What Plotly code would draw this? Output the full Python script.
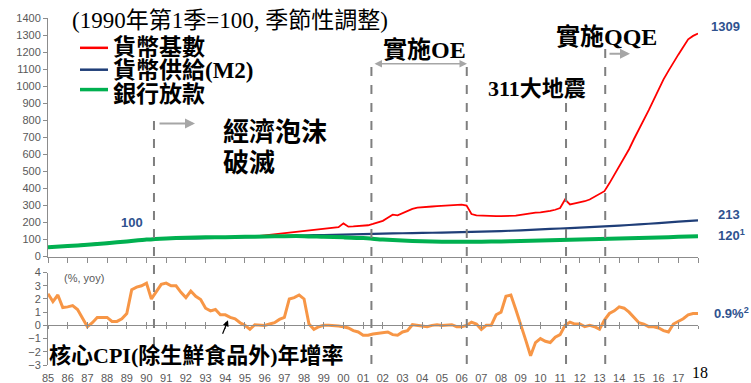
import plotly.graph_objects as go

# ---------------- data ----------------
years = list(range(1985, 2019))
year_labels = [f"{y % 100:02d}" for y in range(1985, 2018)]

# Monetary base (quarterly, 1985Q1 .. 2018Q1), 1990Q1 = 100
base_q = [
    55, 57, 59, 60,   # 1985
    62, 64, 66, 68,   # 1986
    70, 72, 74, 76,   # 1987
    79, 81, 84, 86,   # 1988
    89, 92, 95, 97,   # 1989
    100, 102, 104, 105,  # 1990
    107, 108, 109, 110,  # 1991
    111, 111, 112, 112,  # 1992
    113, 113, 113, 114,  # 1993
    114, 114, 115, 115,  # 1994
    116, 117, 118, 121,  # 1995
    125, 128, 132, 135,  # 1996
    138, 141, 144, 147,  # 1997
    150, 153, 157, 161,  # 1998
    164, 167, 170, 173,  # 1999
    195, 176, 177, 179,  # 2000
    182, 184, 192, 200,  # 2001
    210, 228, 246, 242,  # 2002
    255, 270, 280, 287,  # 2003
    288, 290, 294, 296,  # 2004
    297, 300, 302, 303,  # 2005
    305, 300, 250, 242,  # 2006
    240, 238, 238, 238,  # 2007
    238, 238, 239, 240,  # 2008
    245, 250, 255, 258,  # 2009
    260, 262, 268, 275,  # 2010
    285, 335, 306, 312,  # 2011
    318, 325, 335, 350,  # 2012
    370, 384, 430, 480,  # 2013
    530, 575, 630, 690,  # 2014
    745, 800, 860, 920,  # 2015
    985, 1040, 1090, 1140,  # 2016
    1185, 1230, 1275, 1295,  # 2017
    1309,                # 2018
]

# Money supply M2 (annual), 1990Q1 = 100
m2 = [55, 62, 70, 79, 89, 100, 105, 107, 108, 111, 114, 117, 120, 124, 127,
      129, 132, 135, 137, 139, 141, 144, 147, 150, 154, 160, 165, 170, 176,
      182, 189, 197, 205, 213]

# Bank lending (annual), 1990Q1 = 100
loans = [55, 62, 70, 79, 89, 100, 107, 111, 113, 114, 116, 118, 120, 120, 116,
         113, 109, 100, 94, 90, 88, 87, 88, 89, 92, 95, 98, 101, 103, 106,
         109, 112, 116, 120]

# Core CPI y/y (quarterly, 1985Q1 .. 2018Q1)
cpi_q = [
    2.4, 1.8, 2.3, 1.35,    # 1985
    1.4, 1.5, 1.2, 0.6,     # 1986
    -0.1, 0.2, 0.6, 0.6,    # 1987
    0.6, 0.3, 0.3, 0.5,     # 1988
    0.9, 2.7, 2.9, 3.0,     # 1989
    3.2, 2.0, 2.6, 3.1,     # 1990
    3.2, 3.0, 3.0, 2.5,     # 1991
    2.1, 2.6, 2.2, 1.95,    # 1992
    1.3, 1.1, 1.2, 0.8,     # 1993
    0.8, 0.6, 0.5, 0.2,     # 1994
    0.0, -0.3, 0.05, 0.0,   # 1995
    0.0, 0.1, 0.2, 0.45,    # 1996
    0.6, 2.0, 2.1, 2.3,     # 1997
    2.0, 0.1, -0.3, -0.1,   # 1998
    0.0, 0.0, 0.0, -0.05,   # 1999
    -0.1, -0.2, -0.4, -0.5, # 2000
    -0.75, -0.75, -0.65, -0.6,  # 2001
    -0.6, -0.5, -0.7, -0.75,    # 2002
    -0.5, -0.4, 0.05, 0.0,      # 2003
    -0.1, -0.1, 0.0, 0.05,      # 2004
    0.0, 0.0, 0.05, -0.1,       # 2005
    -0.1, 0.0, 0.25, 0.1,       # 2006
    -0.3, 0.0, 0.0, 0.8,        # 2007
    1.0, 2.2, 2.3, 1.2,         # 2008
    0.1, -1.1, -2.3, -1.3,      # 2009
    -1.0, -1.2, -1.3, -0.9,     # 2010
    -0.7, 0.0, 0.25, 0.1,       # 2011
    0.1, -0.1, 0.0, -0.1,       # 2012
    -0.3, 0.4, 0.9, 1.1,        # 2013
    1.4, 1.3, 1.0, 0.6,         # 2014
    0.2, 0.1, -0.1, -0.1,       # 2015
    -0.2, -0.4, -0.5, 0.1,      # 2016
    0.3, 0.5, 0.8, 0.9,         # 2017
    0.9,                        # 2018
]

# event dates (decimal years) and how far up each dashed line reaches (px from top)
events = [1990.38, 2001.42, 2006.26, 2011.3, 2013.29]
event_tops = [113, 62, 62, 102, 48]

quarters = [1985 + i / 4 for i in range(len(base_q))]

# ---------------- layout helpers (pixel -> paper) ----------------
W, H = 751, 383
ML, MR, MT, MB = 48, 53, 17, 17
PW, PH = W - ML - MR, H - MT - MB


def px(x):
    return (x - ML) / PW


def py(y):
    return (H - MB - y) / PH


AXIS_GRAY = "#8C8C8C"
TICK_FONT = dict(family="Liberation Sans, Arial", size=11, color="#595959")
LABEL_BLUE = "#2F528F"
CJK_SERIF = "Liberation Serif, Noto Sans CJK TC"
RED, BLUE, GREEN, ORANGE = "#FF0000", "#1F3E78", "#00B050", "#F79646"

fig = go.Figure()
fig.add_trace(go.Scatter(x=quarters, y=base_q, mode="lines",
                         line=dict(color=RED, width=1.8), xaxis="x", yaxis="y"))
fig.add_trace(go.Scatter(x=years, y=m2, mode="lines",
                         line=dict(color=BLUE, width=2.2, shape="spline", smoothing=0.6),
                         xaxis="x", yaxis="y"))
fig.add_trace(go.Scatter(x=years, y=loans, mode="lines",
                         line=dict(color=GREEN, width=4, shape="spline", smoothing=0.6),
                         xaxis="x", yaxis="y"))
fig.add_trace(go.Scatter(x=quarters, y=cpi_q, mode="lines",
                         line=dict(color=ORANGE, width=3), xaxis="x2", yaxis="y2"))

top_lo = py(257)
bot_hi = py(273)

fig.update_layout(
    width=W, height=H, margin=dict(l=ML, r=MR, t=MT, b=MB),
    paper_bgcolor="white", plot_bgcolor="white", showlegend=False,
    xaxis=dict(domain=[0, 1], range=[1985, 2018], anchor="y",
               tickvals=years, showticklabels=False, ticks="outside", ticklen=5,
               tickcolor=AXIS_GRAY, showline=True, linecolor=AXIS_GRAY, linewidth=1,
               showgrid=False, zeroline=False),
    yaxis=dict(domain=[top_lo, 1], range=[0, 1400], dtick=100, anchor="x",
               ticks="outside", ticklen=4, tickcolor=AXIS_GRAY, showline=True,
               linecolor=AXIS_GRAY, tickfont=TICK_FONT, showgrid=False, zeroline=False),
    xaxis2=dict(domain=[0, 1], range=[1985, 2018], anchor="y2",
                tickvals=years[:-1], ticktext=year_labels, ticks="", showline=False,
                tickfont=TICK_FONT, showgrid=False, zeroline=False, automargin=False,
                ticklabelstandoff=5),
    xaxis3=dict(domain=[0, 1], range=[1985, 2018], overlaying="x2", anchor="free",
                position=py(326), tickvals=years, showticklabels=False,
                ticks="outside", ticklen=3, tickcolor=AXIS_GRAY, showline=True,
                linecolor=AXIS_GRAY, showgrid=False, zeroline=False),
    xaxis4=dict(domain=[0, 1], range=[1985, 2018], overlaying="x2", anchor="free",
                position=py(326), tickvals=years, showticklabels=False,
                ticks="inside", ticklen=3, tickcolor=AXIS_GRAY, showline=False,
                showgrid=False, zeroline=False),
    yaxis2=dict(domain=[0, bot_hi], range=[-3, 4], dtick=1, anchor="x2",
                ticks="outside", ticklen=4, tickcolor=AXIS_GRAY, showline=True,
                linecolor=AXIS_GRAY, tickfont=TICK_FONT, showgrid=False, zeroline=False),
)
# dummy traces so the overlay axes are drawn
fig.add_trace(go.Scatter(x=[None], y=[None], xaxis="x3", yaxis="y2", showlegend=False))
fig.add_trace(go.Scatter(x=[None], y=[None], xaxis="x4", yaxis="y2", showlegend=False))

shapes = []
for ev, top in zip(events, event_tops):
    shapes.append(dict(type="line", xref="x", yref="paper", x0=ev, x1=ev, y0=0.003,
                       y1=py(top), line=dict(color="#7F7F7F", width=2, dash="dash")))
for col, yy, wdt in [(RED, 47, 2.5), (BLUE, 69, 2.5), (GREEN, 89, 3.5)]:
    shapes.append(dict(type="line", xref="paper", yref="paper", x0=px(80), x1=px(108),
                       y0=py(yy), y1=py(yy), line=dict(color=col, width=wdt)))
fig.update_layout(shapes=shapes)

ann = []


def text(x, y, s, size, color="black", family=CJK_SERIF, xanchor="left", bold=False):
    ann.append(dict(x=px(x), y=py(y), xref="paper", yref="paper", text=s, showarrow=False,
                    xanchor=xanchor, yanchor="middle",
                    font=dict(family=family, size=size, color=color,
                              weight="bold" if bold else "normal")))


text(70, 20, "(1990年第1季=100, 季節性調整)", 23)
text(111, 47, "貨幣基數", 23, bold=True)
text(111, 70, "貨幣供給(M2)", 23, bold=True)
text(111, 94, "銀行放款", 23, bold=True)
text(221, 132, "經濟泡沫", 26, bold=True)
text(221, 163, "破滅", 26, bold=True)
text(381, 49, "實施OE", 24, bold=True)
text(486, 88, "311大地震", 22, bold=True)
text(554, 36, "實施QQE", 24, bold=True)
text(47, 356, "核心CPI(除生鮮食品外)年增率", 22, bold=True)
text(62, 278, "(%, yoy)", 11, color="#595959", family="Liberation Sans, Arial")
text(700, 374, "18", 16, family="Liberation Serif", xanchor="center")

blue_font = "Liberation Sans, Arial"
text(709, 26, "1309", 13, color=LABEL_BLUE, family=blue_font, bold=True)
text(119, 223, "100", 13, color=LABEL_BLUE, family=blue_font, bold=True)
text(716, 215, "213", 13, color=LABEL_BLUE, family=blue_font, bold=True)
text(716, 235, "120<sup>1</sup>", 13, color=LABEL_BLUE, family=blue_font, bold=True)
text(712, 314, "0.9%<sup>2</sup>", 13, color=LABEL_BLUE, family=blue_font, bold=True)


def arrow(hx, hy, tx, ty, color, width, side="end", head=2):
    ann.append(dict(x=px(hx), y=py(hy), xref="paper", yref="paper", text="",
                    showarrow=True, ax=tx - hx, ay=ty - hy, arrowcolor=color,
                    arrowwidth=width, arrowhead=head, arrowside=side, arrowsize=1,
                    startarrowhead=head, startarrowsize=1))


arrow(195, 123, 158, 123, "#A6A6A6", 2)
arrow(467, 63, 373, 63, "#A6A6A6", 1.5, side="end+start")
arrow(630, 53, 608, 53, "#A6A6A6", 2)
arrow(228, 321, 222, 336, "black", 1.2)

fig.update_layout(annotations=ann)
fig.write_html("out.html")
